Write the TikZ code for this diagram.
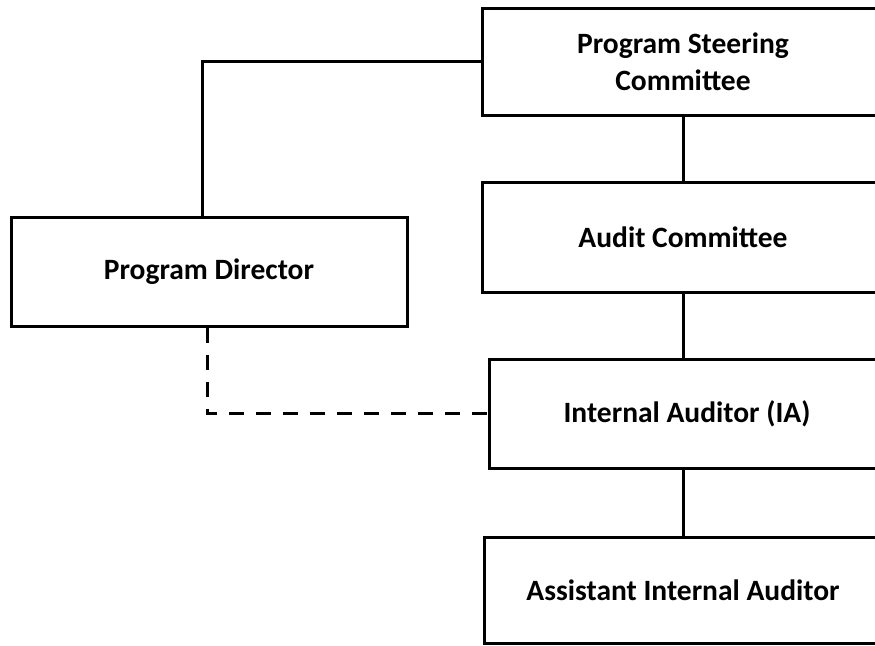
\documentclass[tikz,border=0pt]{standalone}
\usepackage{fontspec}
\setmainfont{Carlito}
\begin{document}
\tikzset{
  unit/.style={draw=black, line width=3pt, minimum height=107pt, align=center, inner sep=0pt, font=\fontsize{29.5}{37}\selectfont\bfseries},
  link/.style={line width=3pt},
  dotlink/.style={line width=3pt, dash pattern={on 15pt off 12pt}}
}
\begin{tikzpicture}[x=1pt,y=1pt,yscale=-1,xscale=1]
\useasboundingbox (0,0) rectangle (875,645);
\clip (0,0) rectangle (875,645);
% Shape: Rectangle boxes
\node [unit, minimum width=402pt] (psc) at (683,61.5) {Program Steering\\Committee};
\node [unit, minimum width=402pt, minimum height=110pt] (ac) at (683,237) {Audit Committee};
\node [unit, minimum width=396pt, minimum height=109pt] (pd) at (209,271.5) {Program Director};
\node [unit, minimum width=396pt, minimum height=109pt] (ia) at (687,413.5) {Internal Auditor (IA)};
\node [unit, minimum width=398pt, minimum height=106pt] (aai) at (683,590) {Assistant Internal Auditor};
% Straight Lines
\draw [link] ([xshift=-7pt]pd.north) |- (psc.west);
\draw [link] (psc.south) -- (ac.north);
\draw [link] (ac.south) -- (ac.south |- ia.north);
\draw [link] (ia.south -| ac.south) -- (aai.north);
% Dashed Lines
\draw [dotlink] ([xshift=-2pt]pd.south) |- (ia.west);
\end{tikzpicture}
\end{document}
